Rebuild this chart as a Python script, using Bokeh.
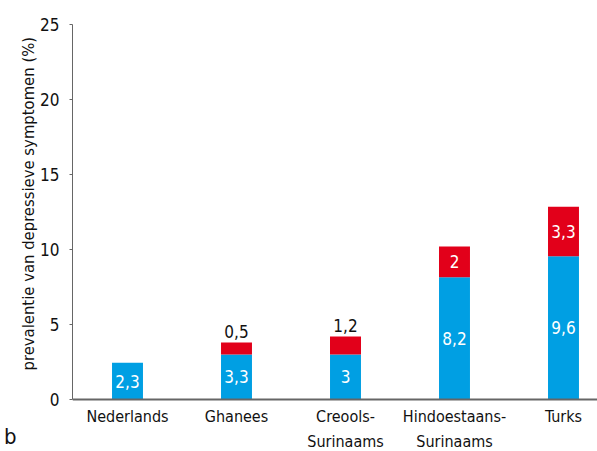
from bokeh.plotting import figure
from bokeh.models import Range1d, FixedTicker, ColumnDataSource, LinearAxis, Span, Title
from bokeh.core.properties import value
from bokeh.embed import file_html
from bokeh.resources import INLINE

categories = ["Nederlands", "Ghanees", "Creools-\nSurinaams", "Hindoestaans-\nSurinaams", "Turks"]
blue_vals = [2.45, 3.0, 3.0, 8.15, 9.55]
red_vals = [0.0, 0.8, 1.2, 2.05, 3.3]
blue_labels = ["2,3", "3,3", "3", "8,2", "9,6"]
red_labels = ["", "0,5", "1,2", "2", "3,3"]
y_ticks = [0, 5, 10, 15, 20, 25]
y_title = "prevalentie van depressieve symptomen (%)"
panel_letter = "b"

FONT = "DejaVu Sans Condensed"
BLUE = "#009fe3"
RED = "#e2001a"
AX = "#666666"
TXT = "#111111"

xs = list(range(len(categories)))
tops = [b + r for b, r in zip(blue_vals, red_vals)]

p = figure(width=597, height=451, output_backend="svg", toolbar_location=None,
           x_range=Range1d(-0.5046, 4.312), y_range=Range1d(-3.467, 25),
           x_axis_location=None,
           min_border_left=72, min_border_right=0, min_border_top=24, min_border_bottom=0)
p.outline_line_color = None
p.grid.visible = False
p.background_fill_color = "white"
p.border_fill_color = "white"

p.add_layout(Span(location=0, dimension="width", line_color=AX, line_width=2))

w = 0.284
p.vbar(x=xs, top=blue_vals, bottom=0, width=w, color=BLUE, line_color=None)
p.vbar(x=xs, top=tops, bottom=blue_vals, width=w, color=RED, line_color=None)

src_b = ColumnDataSource(dict(x=xs, y=[b / 2 for b in blue_vals], t=blue_labels))
p.text(x="x", y="y", text="t", source=src_b, text_color="white", text_align="center",
       text_baseline="middle", text_font=value(FONT), text_font_size="17px")

in_x, in_y, in_t, out_x, out_y, out_t = [], [], [], [], [], []
for i, (b, r, t) in enumerate(zip(blue_vals, red_vals, red_labels)):
    if not t:
        continue
    if r >= 1.8:
        in_x.append(i); in_y.append(b + r / 2); in_t.append(t)
    else:
        out_x.append(i); out_y.append(b + r + 0.7); out_t.append(t)
p.text(x=in_x, y=in_y, text=in_t, text_color="white", text_align="center",
       text_baseline="middle", text_font=value(FONT), text_font_size="17px")
p.text(x=out_x, y=out_y, text=out_t, text_color=TXT, text_align="center",
       text_baseline="middle", text_font=value(FONT), text_font_size="17px")

cx, cy, ct = [], [], []
for i, c in enumerate(categories):
    for k, line in enumerate(c.split("\n")):
        cx.append(i); cy.append(-1.15 - 1.65 * k); ct.append(line)
p.text(x=cx, y=cy, text=ct, text_color=TXT, text_align="center", text_baseline="middle",
       text_font=value(FONT), text_font_size="16px")

ya = p.yaxis[0]
ya.bounds = (0, 25)
ya.ticker = FixedTicker(ticks=y_ticks)
ya.minor_tick_line_color = None
ya.axis_line_color = AX
ya.axis_line_width = 1
ya.major_tick_line_color = AX
ya.major_tick_in = 0
ya.major_tick_out = 3
ya.major_label_text_font = FONT
ya.major_label_text_font_size = "17px"
ya.major_label_text_color = TXT
ya.major_label_standoff = 10

p.add_layout(Title(text=y_title, align="left", offset=81, standoff=0,
                   text_font=FONT, text_font_size="16.5px", text_font_style="normal",
                   text_color=TXT), "left")

la = LinearAxis(ticker=FixedTicker(ticks=[-2.5]), major_label_overrides={-2.5: panel_letter})
la.axis_line_color = None
la.major_tick_line_color = None
la.minor_tick_line_color = None
la.major_tick_in = 0
la.major_tick_out = 0
la.major_label_standoff = 0
la.major_label_text_font = FONT
la.major_label_text_font_size = "22px"
la.major_label_text_color = TXT
p.add_layout(la, "left")

open("out.html", "w").write(file_html(p, INLINE))
